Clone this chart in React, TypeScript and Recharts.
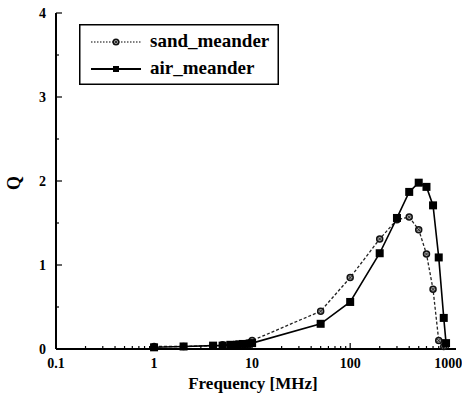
import React from 'react';
import { LineChart, Line, XAxis, YAxis, Legend } from 'recharts';

// Frequency [MHz] and Q
const sandFreq = [1, 2, 4, 5, 6, 7, 8, 9, 10, 50, 100, 200, 300, 400, 500, 600, 700, 800, 900];
const sandQ = [0.03, 0.03, 0.04, 0.05, 0.05, 0.06, 0.06, 0.07, 0.1, 0.45, 0.85, 1.31, 1.54, 1.57, 1.42, 1.13, 0.71, 0.1, 0.03];

const airFreq = [1, 2, 4, 5, 6, 7, 8, 9, 10, 50, 100, 200, 300, 400, 500, 600, 700, 800, 900, 950];
const airQ = [0.02, 0.03, 0.04, 0.04, 0.05, 0.05, 0.06, 0.06, 0.07, 0.3, 0.56, 1.14, 1.56, 1.87, 1.98, 1.93, 1.71, 1.09, 0.37, 0.07];

const seriesOrder = ['sand_meander', 'air_meander'];

const xMajor = [0.1, 1, 10, 100, 1000];
const xMinor = [
  0.2, 0.3, 0.4, 0.5, 0.6, 0.7, 0.8, 0.9,
  2, 3, 4, 5, 6, 7, 8, 9,
  20, 30, 40, 50, 60, 70, 80, 90,
  200, 300, 400, 500, 600, 700, 800, 900,
];
const yMajor = [0, 1, 2, 3, 4];
const yMinor = [0.5, 1.5, 2.5, 3.5];

const sandData = sandFreq.map((f, i) => ({ f, q: sandQ[i] }));
const airData = airFreq.map((f, i) => ({ f, q: airQ[i] }));

const serif = { fontFamily: 'Liberation Serif', fontWeight: 700 };

// hatched-looking circle used for the sand series
const SandDot = ({ cx, cy, r = 4.8 }: any) => {
  if (cx == null || cy == null) return null;
  const d = r * 0.55;
  return (
    <g>
      <circle cx={cx} cy={cy} r={r} fill="#a0a0a0" stroke="#111" strokeWidth={1.5} />
      <line x1={cx - d} y1={cy - d} x2={cx + d} y2={cy + d} stroke="#222" strokeWidth={0.9} />
      <line x1={cx - d} y1={cy + d} x2={cx + d} y2={cy - d} stroke="#222" strokeWidth={0.9} />
    </g>
  );
};

const AirDot = ({ cx, cy, s = 8 }: any) => {
  if (cx == null || cy == null) return null;
  return <rect x={cx - s / 2} y={cy - s / 2} width={s} height={s} fill="#000" />;
};

const XTick = ({ x, y, payload }: any) => {
  const major = xMajor.includes(payload.value);
  return (
    <g>
      <line x1={x} x2={x} y1={y} y2={y - (major ? 6 : 3)} stroke="#000" strokeWidth={1.2} />
      {major && (
        <text x={x} y={y + 19} textAnchor="middle" style={{ ...serif, fontSize: 14 }} fill="#000">
          {payload.value}
        </text>
      )}
    </g>
  );
};

const YTick = ({ x, y, payload }: any) => {
  const major = yMajor.includes(payload.value);
  return (
    <g>
      <line x1={x} x2={x + (major ? 6 : 3)} y1={y} y2={y} stroke="#000" strokeWidth={1.2} />
      {major && (
        <text x={x - 10} y={y + 5} textAnchor="end" style={{ ...serif, fontSize: 14 }} fill="#000">
          {payload.value}
        </text>
      )}
    </g>
  );
};

const renderLegend = ({ payload }: any) => {
  const items = [...(payload || [])].sort(
    (a: any, b: any) => seriesOrder.indexOf(a.value) - seriesOrder.indexOf(b.value)
  );
  return (
    <svg width={200} height={61}>
      <rect x={0.75} y={0.75} width={198.5} height={59.5} fill="#fff" stroke="#000" strokeWidth={1.5} />
      {items.map((entry: any, i: number) => {
        const cy = 18 + i * 27;
        const sand = entry.value === 'sand_meander';
        return (
          <g key={entry.value}>
            <line
              x1={12}
              x2={62}
              y1={cy}
              y2={cy}
              stroke="#000"
              strokeWidth={sand ? 1.2 : 1.8}
              strokeDasharray={sand ? '1.5 1.5' : undefined}
            />
            {sand ? <SandDot cx={37} cy={cy} r={2.8} /> : <AirDot cx={37} cy={cy} s={6} />}
            <text x={71} y={cy + 5} style={{ ...serif, fontSize: 19 }} fill="#000">
              {entry.value}
            </text>
          </g>
        );
      })}
    </svg>
  );
};

export default function App() {
  return (
    <div style={{ position: 'absolute', left: 0, top: 0, background: '#fff' }}>
      <LineChart width={462} height={397} margin={{ top: 13, right: 6, bottom: 0, left: 0 }}>
        <XAxis
          xAxisId="b"
          type="number"
          dataKey="f"
          scale="log"
          domain={[0.1, 1200]}
          allowDataOverflow
          ticks={[...xMajor, ...xMinor]}
          interval={0}
          tick={<XTick />}
          tickLine={false}
          tickSize={0}
          tickMargin={0}
          height={48}
          axisLine={{ stroke: '#000', strokeWidth: 2 }}
          label={{
            content: () => (
              <text x={253} y={389} textAnchor="middle" style={{ ...serif, fontSize: 17 }} fill="#000">
                Frequency [MHz]
              </text>
            ),
          }}
        />
        <XAxis
          xAxisId="t"
          orientation="top"
          type="number"
          domain={[0, 1]}
          height={0}
          tick={false}
          tickLine={false}
          axisLine={{ stroke: '#000', strokeWidth: 1 }}
        />
        <YAxis
          yAxisId="l"
          type="number"
          domain={[0, 4]}
          ticks={[...yMajor, ...yMinor]}
          interval={0}
          tick={<YTick />}
          tickLine={false}
          tickSize={0}
          tickMargin={0}
          width={56}
          axisLine={{ stroke: '#000', strokeWidth: 2 }}
          label={{
            content: () => (
              <text
                x={20}
                y={183}
                transform="rotate(-90 20 183)"
                textAnchor="middle"
                style={{ ...serif, fontSize: 18 }}
                fill="#000"
              >
                Q
              </text>
            ),
          }}
        />
        <YAxis
          yAxisId="r"
          orientation="right"
          type="number"
          domain={[0, 1]}
          width={0}
          tick={false}
          tickLine={false}
          axisLine={{ stroke: '#000', strokeWidth: 1 }}
        />
        <Legend
          layout="horizontal"
          verticalAlign="middle"
          align="center"
          content={renderLegend}
          wrapperStyle={{ position: 'absolute', left: 79, top: 24, width: 200, height: 61 }}
        />
        <Line
          xAxisId="b"
          yAxisId="l"
          data={sandData}
          dataKey="q"
          name="sand_meander"
          stroke="#222"
          strokeWidth={1.3}
          strokeDasharray="3 2"
          dot={<SandDot />}
          isAnimationActive={false}
        />
        <Line
          xAxisId="b"
          yAxisId="l"
          data={airData}
          dataKey="q"
          name="air_meander"
          stroke="#000"
          strokeWidth={1.6}
          dot={<AirDot />}
          isAnimationActive={false}
        />
      </LineChart>
    </div>
  );
}
